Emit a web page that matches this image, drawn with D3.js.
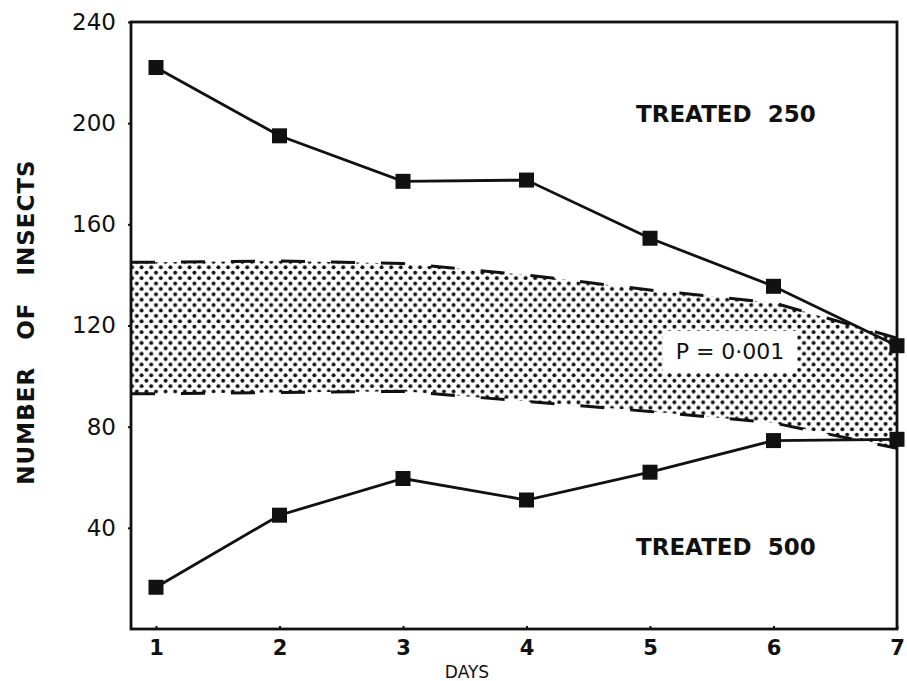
<!DOCTYPE html>
<html lang="en">
<head>
  <meta charset="utf-8">
  <title>Number of insects</title>
  <script src="https://d3js.org/d3.v7.min.js"></script>
  <style>
    body { margin: 0; background: #fff; }
    text { font-family: "DejaVu Sans", sans-serif; fill: #111; }
  </style>
</head>
<body>
  <script>
    // values
    var days = [1, 2, 3, 4, 5, 6, 7];
    var treated250 = [222, 195, 177, 177.5, 154.5, 135.5, 112];
    var treated500 = [16.5, 45, 59.5, 51, 62, 74.5, 75];
    var bandUpper = [145, 145.5, 144.5, 140, 134, 129, 115];
    var bandLower = [93, 93.5, 94, 90, 86, 81.5, 71.5];
    var yTicks = [40, 80, 120, 160, 200, 240];

    var w = 907, h = 681;

    var x = d3.scaleLinear().domain([1, 7]).range([156, 897]);
    var y = d3.scaleLinear().domain([0, 240]).range([629, 22]);

    var svg = d3.select('body').append('svg')
      .attr('width', w)
      .attr('height', h);

    // stipple pattern for the P = 0.001 band
    var pat = svg.append('defs').append('pattern')
      .attr('id', 'dots')
      .attr('patternUnits', 'userSpaceOnUse')
      .attr('width', 9.6)
      .attr('height', 10.8);
    pat.append('circle').attr('cx', 2.4).attr('cy', 2.7).attr('r', 2).attr('fill', '#111');
    pat.append('circle').attr('cx', 7.2).attr('cy', 8.1).attr('r', 2).attr('fill', '#111');

    var x0 = 131; // left edge of the frame

    // band area (starts at the frame)
    var band = days.map(function(d, i) {
      return { x: x(d), hi: y(bandUpper[i]), lo: y(bandLower[i]) };
    });
    band.unshift({ x: x0, hi: y(bandUpper[0]), lo: y(bandLower[0]) });

    svg.append('path')
      .datum(band)
      .attr('d', d3.area().x(function(d) { return d.x; }).y0(function(d) { return d.lo; }).y1(function(d) { return d.hi; }))
      .attr('fill', 'url(#dots)');

    // dashed bounds
    ['hi', 'lo'].forEach(function(k) {
      svg.append('path')
        .datum(band)
        .attr('d', d3.line().x(function(d) { return d.x; }).y(function(d) { return d[k]; }))
        .attr('fill', 'none')
        .attr('stroke', '#111')
        .attr('stroke-width', 3)
        .attr('stroke-dasharray', '24,26');
    });

    // label box in the band
    svg.append('rect')
      .attr('x', 663).attr('y', 331).attr('width', 134).attr('height', 42)
      .attr('fill', '#fff');
    svg.append('text')
      .attr('x', 730).attr('y', 359)
      .attr('text-anchor', 'middle')
      .style('font-size', '22px')
      .text('P = 0·001');

    // frame
    svg.append('rect')
      .attr('x', x0).attr('y', y(240))
      .attr('width', 897 - x0).attr('height', y(0) - y(240))
      .attr('fill', 'none')
      .attr('stroke', '#111')
      .attr('stroke-width', 2.8);

    // series
    [treated250, treated500].forEach(function(vals) {
      svg.append('path')
        .datum(vals)
        .attr('d', d3.line().x(function(d, i) { return x(days[i]); }).y(function(d) { return y(d); }))
        .attr('fill', 'none')
        .attr('stroke', '#111')
        .attr('stroke-width', 2.8);

      svg.selectAll(null)
        .data(vals)
        .enter()
        .append('rect')
        .attr('x', function(d, i) { return x(days[i]) - 7.5; })
        .attr('y', function(d) { return y(d) - 7.5; })
        .attr('width', 15)
        .attr('height', 15)
        .attr('fill', '#111');
    });

    // axes
    var xAxis = svg.append('g')
      .attr('transform', 'translate(0,' + y(0) + ')')
      .call(d3.axisBottom(x).tickValues(days).tickSize(-3).tickPadding(11).tickFormat(d3.format('d')));
    xAxis.select('.domain').remove();
    xAxis.selectAll('.tick line').attr('stroke', '#111').attr('stroke-width', 2);
    xAxis.selectAll('text').style('font-size', '21px').style('font-weight', 'bold');

    var yAxis = svg.append('g')
      .attr('transform', 'translate(' + x0 + ',0)')
      .call(d3.axisLeft(y).tickValues(yTicks).tickSize(3).tickPadding(12));
    yAxis.select('.domain').remove();
    yAxis.selectAll('.tick line').attr('stroke', '#111').attr('stroke-width', 2);
    yAxis.selectAll('text').style('font-size', '23px');

    // labels
    svg.append('text')
      .attr('x', 636).attr('y', 122)
      .style('font-size', '23px').style('font-weight', 'bold')
      .attr('xml:space', 'preserve')
      .text('TREATED  250');
    svg.append('text')
      .attr('x', 636).attr('y', 555)
      .style('font-size', '23px').style('font-weight', 'bold')
      .attr('xml:space', 'preserve')
      .text('TREATED  500');

    svg.append('text')
      .attr('x', 467).attr('y', 678)
      .attr('text-anchor', 'middle')
      .style('font-size', '17px')
      .text('DAYS');

    svg.append('text')
      .attr('transform', 'translate(34,322) rotate(-90)')
      .attr('text-anchor', 'middle')
      .attr('xml:space', 'preserve')
      .style('font-size', '23px').style('font-weight', 'bold').style('letter-spacing', '1px')
      .text('NUMBER   OF   INSECTS');
  </script>
</body>
</html>
